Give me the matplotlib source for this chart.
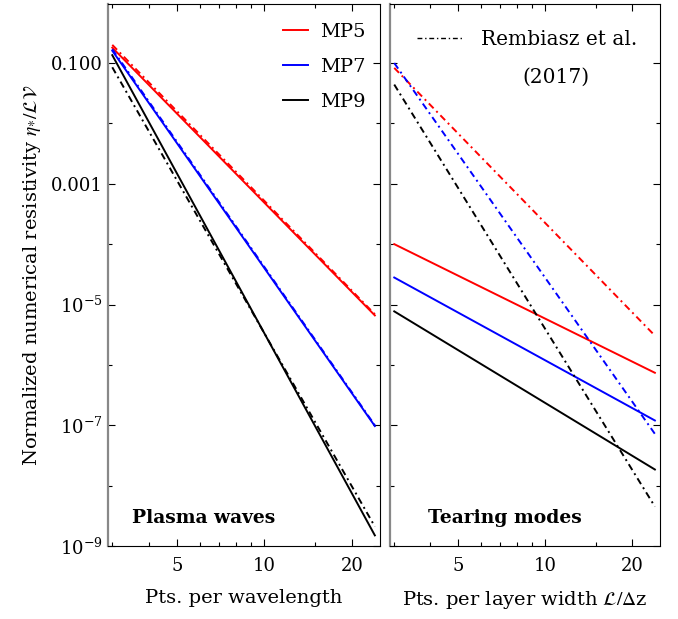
import matplotlib
matplotlib.use("Agg")
import matplotlib.pyplot as plt
from matplotlib.lines import Line2D

plt.rcParams['font.family'] = ['DejaVu Serif']
plt.rcParams['mathtext.fontset'] = 'dejavuserif'

# sample resolution (points per wavelength / layer width)
pts = [3, 24]

# plasma waves: measured resistivity
pw_mp5 = [0.18, 6.6e-6]
pw_mp7 = [0.16, 9.7e-8]
pw_mp9 = [0.135, 1.5e-9]
# plasma waves: Rembiasz et al. (2017)
pw_ref_mp5 = [0.20, 6.9e-6]
pw_ref_mp7 = [0.17, 1.0e-7]
pw_ref_mp9 = [0.085, 2.1e-9]

# tearing modes: measured resistivity
tm_mp5 = [1.0e-4, 7.4e-7]
tm_mp7 = [2.8e-5, 1.2e-7]
tm_mp9 = [7.7e-6, 1.85e-8]
# tearing modes: Rembiasz et al. (2017)
tm_ref_mp5 = [0.083, 3.05e-6]
tm_ref_mp7 = [0.10, 7.2e-8]
tm_ref_mp9 = [0.044, 4.5e-9]

series = ['MP5', 'MP7', 'MP9']
colors = ['#ff0000', '#0000ff', '#000000']

ytick_vals = [1e-1, 1e-3, 1e-5, 1e-7, 1e-9]
ytick_labels = ['0.100', '0.001', '$10^{-5}$', '$10^{-7}$', '$10^{-9}$']
yminor_vals = [1e-2, 1e-4, 1e-6, 1e-8]
xtick_vals = [5, 10, 20]
xminor_vals = [3, 4, 6, 7, 8, 9, 15]

dashdot = (0, (3.5, 2, 1, 2))
lw = 1.4

fig = plt.figure(figsize=(6.78, 6.19), dpi=100)
ax1 = fig.add_axes([108 / 678, 73 / 619, 272 / 678, 542 / 619])
ax2 = fig.add_axes([390 / 678, 73 / 619, 270 / 678, 542 / 619])

for ys, c in zip([pw_mp5, pw_mp7, pw_mp9], colors):
    ax1.plot(pts, ys, color=c, lw=lw)
for ys, c in zip([pw_ref_mp5, pw_ref_mp7, pw_ref_mp9], colors):
    ax1.plot(pts, ys, color=c, lw=lw, ls=dashdot)

for ys, c in zip([tm_mp5, tm_mp7, tm_mp9], colors):
    ax2.plot(pts, ys, color=c, lw=lw)
for ys, c in zip([tm_ref_mp5, tm_ref_mp7, tm_ref_mp9], colors):
    ax2.plot(pts, ys, color=c, lw=lw, ls=dashdot)

for ax in (ax1, ax2):
    ax.set_xscale('log')
    ax.set_yscale('log')
    ax.set_xlim(2.9, 25)
    ax.set_ylim(1e-9, 0.95)
    ax.set_xticks(xtick_vals)
    ax.set_xticklabels([str(v) for v in xtick_vals])
    ax.set_xticks(xminor_vals, minor=True)
    ax.set_xticklabels([], minor=True)
    ax.set_yticks(ytick_vals)
    ax.set_yticks(yminor_vals, minor=True)
    ax.set_yticklabels([], minor=True)
    ax.tick_params(which='both', direction='in', top=True, right=True,
                   labelsize=13)
    ax.tick_params(which='major', length=5, width=0.8)
    ax.tick_params(which='minor', length=3, width=0.8)
    ax.tick_params(axis='x', pad=8)
    ax.spines['left'].set_color('#888888')
    ax.spines['left'].set_linewidth(1.6)

ax1.set_yticklabels(ytick_labels)
ax2.set_yticklabels([])

ax1.set_ylabel('Normalized numerical resistivity $\\eta_{*}/\\mathcal{L}\\mathcal{V}$',
               fontsize=14, math_fontfamily='stix', labelpad=6)
ax1.set_xlabel('Pts. per wavelength', fontsize=14, labelpad=10)
ax2.set_xlabel('Pts. per layer width $\\mathcal{L}/\\Delta$z', fontsize=14,
               math_fontfamily='stix', labelpad=10)

ax1.text(0.088, 0.052, 'Plasma waves', transform=ax1.transAxes,
         fontsize=13.5, fontweight='bold', va='center')
ax2.text(0.14, 0.052, 'Tearing modes', transform=ax2.transAxes,
         fontsize=13.5, fontweight='bold', va='center')

handles = [Line2D([], [], color=c, lw=lw) for c in colors]
ax1.legend(handles, series, loc='upper right', bbox_to_anchor=(1.0, 0.992),
           frameon=False, fontsize=14, handlelength=1.3, handletextpad=0.6,
           labelspacing=0.88, borderaxespad=0.35)

ref_handle = [Line2D([], [], color='black', lw=1.0, ls=dashdot)]
ax2.legend(ref_handle, ['Rembiasz et al.'], loc='upper right',
           bbox_to_anchor=(1.0, 0.994), frameon=False, fontsize=14.5,
           handlelength=2.25, handletextpad=0.9, borderaxespad=0.75)
ax2.text(0.615, 0.865, '(2017)', transform=ax2.transAxes, fontsize=14.5,
         ha='center', va='center')

fig.savefig('out.png', dpi=100)
